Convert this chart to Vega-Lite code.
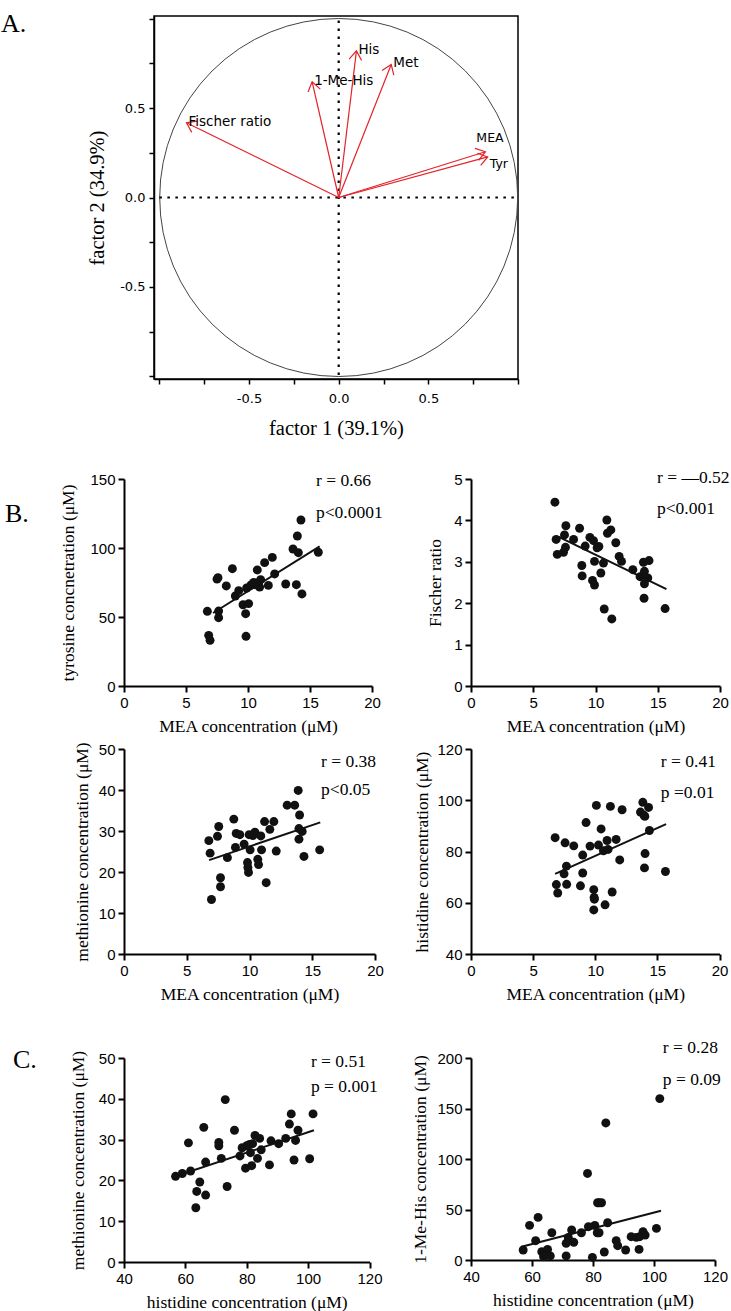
{
  "$schema": "https://vega.github.io/schema/vega-lite/v6.json",
  "background": "white",
  "padding": {"left": 0, "top": 9, "right": 0, "bottom": 0},
  "config": {
    "view": {"stroke": null},
    "axis": {"grid": false, "domainColor": "black", "domainWidth": 2, "tickColor": "black", "tickWidth": 2, "tickSize": 6, "labelFont": "Liberation Sans", "labelFontSize": 15, "labelColor": "black", "labelPadding": 3, "labelFlush": false, "labelOverlap": false, "titleFont": "Liberation Serif", "titleFontSize": 17.5, "titleFontWeight": "normal", "titleColor": "black", "titlePadding": 7},
    "text": {"font": "Liberation Serif", "fontSize": 17.5, "color": "black"}
  },
  "datasets": {
    "blank": [{}],
    "loadings": [
      {"var": "Fischer ratio", "x0": 0, "y0": 0, "f1": -0.849, "f2": 0.418},
      {"var": "1-Me-His", "x0": 0, "y0": 0, "f1": -0.148, "f2": 0.647},
      {"var": "His", "x0": 0, "y0": 0, "f1": 0.099, "f2": 0.820},
      {"var": "Met", "x0": 0, "y0": 0, "f1": 0.293, "f2": 0.744},
      {"var": "MEA", "x0": 0, "y0": 0, "f1": 0.818, "f2": 0.256},
      {"var": "Tyr", "x0": 0, "y0": 0, "f1": 0.831, "f2": 0.227}
    ],
    "origin": [{"f1": 0, "f2": 0}],
    "refLines": [
      {"f1": -1, "f1b": 0.98, "f2": 0, "f2b": 0},
      {"f1": 0, "f1b": 0, "f2": 0.99, "f2b": -1}
    ],
    "mea_tyr": [
      {"MEA": 6.72, "Tyr": 54.1}, {"MEA": 6.83, "Tyr": 36.7}, {"MEA": 6.94, "Tyr": 33.1}, {"MEA": 7.5, "Tyr": 77.5}, {"MEA": 7.58, "Tyr": 78.5},
      {"MEA": 7.63, "Tyr": 54.3}, {"MEA": 7.63, "Tyr": 49.5}, {"MEA": 8.25, "Tyr": 72.5}, {"MEA": 8.74, "Tyr": 85}, {"MEA": 8.98, "Tyr": 65.2},
      {"MEA": 9.25, "Tyr": 69.1}, {"MEA": 9.6, "Tyr": 58.9}, {"MEA": 9.81, "Tyr": 52.4}, {"MEA": 9.84, "Tyr": 36}, {"MEA": 9.89, "Tyr": 71},
      {"MEA": 10.05, "Tyr": 59.7}, {"MEA": 10.24, "Tyr": 73.2}, {"MEA": 10.46, "Tyr": 75.1}, {"MEA": 10.59, "Tyr": 73.4}, {"MEA": 10.75, "Tyr": 84.1},
      {"MEA": 10.86, "Tyr": 75.1}, {"MEA": 10.94, "Tyr": 71.7}, {"MEA": 11.02, "Tyr": 77.1}, {"MEA": 11.34, "Tyr": 89.4}, {"MEA": 11.64, "Tyr": 72.9},
      {"MEA": 11.96, "Tyr": 93.2}, {"MEA": 12.15, "Tyr": 81.2}, {"MEA": 13.04, "Tyr": 73.9}, {"MEA": 13.63, "Tyr": 99.3}, {"MEA": 13.9, "Tyr": 73.4},
      {"MEA": 13.98, "Tyr": 108.7}, {"MEA": 14.06, "Tyr": 96.6}, {"MEA": 14.27, "Tyr": 120.3}, {"MEA": 14.35, "Tyr": 66.7}, {"MEA": 15.67, "Tyr": 96.9}
    ],
    "mea_fischer": [
      {"MEA": 6.74, "Fischer": 4.44}, {"MEA": 6.84, "Fischer": 3.54}, {"MEA": 6.93, "Fischer": 3.18}, {"MEA": 7.62, "Fischer": 3.87}, {"MEA": 7.51, "Fischer": 3.65},
      {"MEA": 7.59, "Fischer": 3.35}, {"MEA": 7.43, "Fischer": 3.23}, {"MEA": 8.24, "Fischer": 3.54}, {"MEA": 8.72, "Fischer": 3.81}, {"MEA": 8.9, "Fischer": 2.91},
      {"MEA": 8.93, "Fischer": 2.66}, {"MEA": 9.17, "Fischer": 3.38}, {"MEA": 9.55, "Fischer": 3.59}, {"MEA": 9.84, "Fischer": 3.51}, {"MEA": 9.92, "Fischer": 3.01},
      {"MEA": 9.76, "Fischer": 2.55}, {"MEA": 9.92, "Fischer": 2.44}, {"MEA": 10.13, "Fischer": 3.34}, {"MEA": 10.27, "Fischer": 3.37}, {"MEA": 10.43, "Fischer": 2.73},
      {"MEA": 10.64, "Fischer": 2.97}, {"MEA": 10.7, "Fischer": 1.86}, {"MEA": 10.91, "Fischer": 4.01}, {"MEA": 10.96, "Fischer": 3.69}, {"MEA": 11.23, "Fischer": 3.77},
      {"MEA": 11.31, "Fischer": 1.62}, {"MEA": 11.63, "Fischer": 3.46}, {"MEA": 11.9, "Fischer": 3.13}, {"MEA": 12.09, "Fischer": 3.01}, {"MEA": 13.0, "Fischer": 2.81},
      {"MEA": 13.58, "Fischer": 2.64}, {"MEA": 13.85, "Fischer": 2.99}, {"MEA": 13.93, "Fischer": 2.77}, {"MEA": 13.9, "Fischer": 2.12}, {"MEA": 13.93, "Fischer": 2.47},
      {"MEA": 14.2, "Fischer": 2.61}, {"MEA": 14.3, "Fischer": 3.03}, {"MEA": 15.59, "Fischer": 1.87}
    ],
    "mea_met": [
      {"MEA": 6.76, "Met": 27.65}, {"MEA": 6.86, "Met": 24.6}, {"MEA": 6.97, "Met": 13.3}, {"MEA": 7.45, "Met": 28.7}, {"MEA": 7.55, "Met": 31.1},
      {"MEA": 7.69, "Met": 18.6}, {"MEA": 7.69, "Met": 16.4}, {"MEA": 8.24, "Met": 23.5}, {"MEA": 8.75, "Met": 32.9}, {"MEA": 8.88, "Met": 26.0},
      {"MEA": 8.94, "Met": 29.4}, {"MEA": 9.23, "Met": 29.1}, {"MEA": 9.57, "Met": 26.8}, {"MEA": 9.84, "Met": 22.3}, {"MEA": 9.87, "Met": 21.1},
      {"MEA": 9.92, "Met": 19.9}, {"MEA": 9.97, "Met": 29.1}, {"MEA": 10.05, "Met": 25.4}, {"MEA": 10.27, "Met": 28.9}, {"MEA": 10.43, "Met": 29.7},
      {"MEA": 10.66, "Met": 23.1}, {"MEA": 10.72, "Met": 21.8}, {"MEA": 10.9, "Met": 28.8}, {"MEA": 10.96, "Met": 25.4}, {"MEA": 11.2, "Met": 32.3},
      {"MEA": 11.33, "Met": 17.4}, {"MEA": 11.62, "Met": 30.4}, {"MEA": 11.94, "Met": 32.3}, {"MEA": 12.13, "Met": 25.1}, {"MEA": 13.0, "Met": 36.3},
      {"MEA": 13.6, "Met": 36.3}, {"MEA": 13.88, "Met": 39.9}, {"MEA": 13.94, "Met": 28.0}, {"MEA": 13.99, "Met": 33.9}, {"MEA": 13.94, "Met": 30.6},
      {"MEA": 14.2, "Met": 29.9}, {"MEA": 14.34, "Met": 23.8}, {"MEA": 15.59, "Met": 25.4}
    ],
    "mea_his": [
      {"MEA": 6.77, "His": 85.4}, {"MEA": 6.87, "His": 67.1}, {"MEA": 6.98, "His": 63.8}, {"MEA": 7.49, "His": 71.3}, {"MEA": 7.57, "His": 83.4},
      {"MEA": 7.68, "His": 74.3}, {"MEA": 7.7, "His": 67.2}, {"MEA": 8.27, "His": 82.2}, {"MEA": 8.81, "His": 66.6}, {"MEA": 8.99, "His": 78.6},
      {"MEA": 8.99, "His": 71.6}, {"MEA": 9.26, "His": 91.3}, {"MEA": 9.58, "His": 82.1}, {"MEA": 9.88, "His": 65.1}, {"MEA": 9.91, "His": 62.1},
      {"MEA": 9.93, "His": 61.4}, {"MEA": 9.88, "His": 57.2}, {"MEA": 10.09, "His": 98.0}, {"MEA": 10.26, "His": 82.5}, {"MEA": 10.47, "His": 88.8},
      {"MEA": 10.66, "His": 80.3}, {"MEA": 10.79, "His": 59.2}, {"MEA": 10.95, "His": 84.3}, {"MEA": 11.03, "His": 80.8}, {"MEA": 11.22, "His": 97.6},
      {"MEA": 11.36, "His": 64.2}, {"MEA": 11.68, "His": 84.7}, {"MEA": 11.97, "His": 76.7}, {"MEA": 12.16, "His": 96.3}, {"MEA": 13.83, "His": 99.2},
      {"MEA": 13.64, "His": 95.4}, {"MEA": 13.91, "His": 94.2}, {"MEA": 13.99, "His": 93.7}, {"MEA": 14.01, "His": 79.2}, {"MEA": 13.96, "His": 73.6},
      {"MEA": 14.29, "His": 97.2}, {"MEA": 14.36, "His": 88.2}, {"MEA": 15.65, "His": 72.2}
    ],
    "his_met": [
      {"His": 56.8, "Met": 21.0}, {"His": 59.0, "Met": 21.7}, {"His": 61.0, "Met": 29.2}, {"His": 61.7, "Met": 22.3}, {"His": 63.4, "Met": 13.3},
      {"His": 63.7, "Met": 17.3}, {"His": 64.7, "Met": 19.6}, {"His": 66.0, "Met": 33.0}, {"His": 66.6, "Met": 16.4}, {"His": 66.6, "Met": 24.5},
      {"His": 70.9, "Met": 29.3}, {"His": 70.9, "Met": 28.5}, {"His": 71.7, "Met": 25.4}, {"His": 73.0, "Met": 39.8}, {"His": 73.6, "Met": 18.5},
      {"His": 76.0, "Met": 32.3}, {"His": 77.8, "Met": 26.0}, {"His": 78.5, "Met": 28.0}, {"His": 79.6, "Met": 23.0}, {"His": 80.0, "Met": 28.5},
      {"His": 80.9, "Met": 28.8}, {"His": 81.2, "Met": 26.8}, {"His": 81.6, "Met": 23.6}, {"His": 81.9, "Met": 29.0}, {"His": 82.7, "Met": 31.0},
      {"His": 83.5, "Met": 25.4}, {"His": 84.2, "Met": 30.3}, {"His": 84.7, "Met": 27.5}, {"His": 87.4, "Met": 23.8}, {"His": 87.9, "Met": 29.7},
      {"His": 90.4, "Met": 29.0}, {"His": 92.7, "Met": 30.3}, {"His": 93.9, "Met": 33.8}, {"His": 94.5, "Met": 36.3}, {"His": 95.4, "Met": 25.0},
      {"His": 95.9, "Met": 29.8}, {"His": 96.7, "Met": 32.3}, {"His": 100.5, "Met": 25.3}, {"His": 101.6, "Met": 36.3}
    ],
    "his_mehis": [
      {"His": 57.1, "MeHis": 9.9}, {"His": 59.2, "MeHis": 34.3}, {"His": 61.2, "MeHis": 19.1}, {"His": 62.0, "MeHis": 42.2}, {"His": 63.2, "MeHis": 8.2},
      {"His": 63.8, "MeHis": 3.3}, {"His": 65.1, "MeHis": 10.5}, {"His": 64.9, "MeHis": 4.9}, {"His": 66.0, "MeHis": 4.0}, {"His": 66.5, "MeHis": 27.0},
      {"His": 71.2, "MeHis": 4.0}, {"His": 71.2, "MeHis": 16.5}, {"His": 71.9, "MeHis": 22.4}, {"His": 73.0, "MeHis": 29.7}, {"His": 73.7, "MeHis": 17.5},
      {"His": 76.2, "MeHis": 27.0}, {"His": 78.2, "MeHis": 85.7}, {"His": 78.5, "MeHis": 33.0}, {"His": 79.8, "MeHis": 2.6}, {"His": 80.6, "MeHis": 34.3},
      {"His": 81.5, "MeHis": 56.7}, {"His": 82.0, "MeHis": 56.7}, {"His": 82.8, "MeHis": 56.7}, {"His": 81.4, "MeHis": 27.0}, {"His": 82.0, "MeHis": 27.0},
      {"His": 83.7, "MeHis": 7.9}, {"His": 84.2, "MeHis": 135.7}, {"His": 84.8, "MeHis": 36.9}, {"His": 87.6, "MeHis": 19.1}, {"His": 88.1, "MeHis": 14.2},
      {"His": 90.7, "MeHis": 9.9}, {"His": 92.5, "MeHis": 23.1}, {"His": 94.2, "MeHis": 22.4}, {"His": 95.1, "MeHis": 10.5}, {"His": 95.3, "MeHis": 23.1},
      {"His": 96.4, "MeHis": 28.0}, {"His": 97.1, "MeHis": 24.7}, {"His": 100.8, "MeHis": 31.3}, {"His": 101.9, "MeHis": 159.8}
    ],
    "fits": [
      {"panel": "B1", "x": 7.18, "y": 52.9}, {"panel": "B1", "x": 15.78, "y": 101.2},
      {"panel": "B2", "x": 7.0, "y": 3.61}, {"panel": "B2", "x": 15.7, "y": 2.34},
      {"panel": "B3", "x": 6.78, "y": 22.9}, {"panel": "B3", "x": 15.64, "y": 32.1},
      {"panel": "B4", "x": 6.77, "y": 71.3}, {"panel": "B4", "x": 15.7, "y": 90.7},
      {"panel": "C1", "x": 56.8, "y": 21.0}, {"panel": "C1", "x": 101.9, "y": 32.3},
      {"panel": "C2", "x": 56.6, "y": 13.2}, {"panel": "C2", "x": 102.3, "y": 48.8}
    ]
  },
  "spacing": 0,
  "vconcat": [
    {
      "bounds": "flush",
      "spacing": 0,
      "hconcat": [
        {"data": {"name": "blank"}, "mark": {"type": "point", "opacity": 0, "size": 0, "strokeWidth": 0}, "width": 153, "height": 430},
        {
          "width": 364, "height": 363,
          "view": {"stroke": "black", "strokeWidth": 1.5},
          "layer": [
            {"data": {"name": "origin"}, "mark": {"type": "point", "shape": "circle", "size": 128164, "filled": false, "stroke": "#444", "strokeWidth": 1, "opacity": 1},
             "encoding": {
               "x": {"field": "f1", "type": "quantitative", "scale": {"domain": [-1.03, 1.0], "nice": false, "zero": false},
                     "axis": {"title": "factor 1 (39.1%)", "values": [-1, -0.75, -0.5, -0.25, 0, 0.25, 0.5, 0.75, 1], "labelExpr": "datum.value == -0.5 ? '-0.5' : datum.value == 0 ? '0.0' : datum.value == 0.5 ? '0.5' : ''", "labelFont": "DejaVu Sans", "labelFontSize": 13, "labelPadding": 8, "tickSize": 5, "tickWidth": 1.5, "domainWidth": 1.5, "titleFontSize": 20.5, "titlePadding": 13}},
               "y": {"field": "f2", "type": "quantitative", "scale": {"domain": [-1.015, 1.015], "nice": false, "zero": false},
                     "axis": {"title": "factor 2 (34.9%)", "values": [-1, -0.75, -0.5, -0.25, 0, 0.25, 0.5, 0.75, 1], "labelExpr": "datum.value == -0.5 ? '-0.5' : datum.value == 0 ? '0.0' : datum.value == 0.5 ? '0.5' : ''", "labelFont": "DejaVu Sans", "labelFontSize": 13, "labelPadding": 4, "tickSize": 5, "tickWidth": 1.5, "domainWidth": 1.5, "titleFontSize": 20.5, "titlePadding": 12}}
             }},
            {"data": {"name": "refLines"}, "mark": {"type": "rule", "color": "black", "strokeWidth": 2.2, "strokeDash": [2.5, 5.5]},
             "encoding": {"x": {"field": "f1", "type": "quantitative"}, "x2": {"field": "f1b"}, "y": {"field": "f2", "type": "quantitative"}, "y2": {"field": "f2b"}}},
            {"data": {"name": "loadings"}, "mark": {"type": "rule", "color": "#e4222a", "strokeWidth": 1.2},
             "encoding": {"x": {"field": "x0", "type": "quantitative"}, "y": {"field": "y0", "type": "quantitative"}, "x2": {"field": "f1"}, "y2": {"field": "f2"}}},
            {"data": {"name": "loadings"}, "transform": [{"calculate": "atan2(datum.f1, datum.f2) * 180 / PI", "as": "ang"}],
             "mark": {"type": "point", "shape": "M-0.7,1L0,0L0.7,1", "size": 324, "filled": false, "stroke": "#e4222a", "strokeWidth": 1.2, "opacity": 1},
             "encoding": {"x": {"field": "f1", "type": "quantitative"}, "y": {"field": "f2", "type": "quantitative"}, "angle": {"field": "ang", "type": "quantitative", "scale": null}}},
            {"data": {"name": "loadings"}, "transform": [{"filter": "datum.var != 'MEA' && datum.var != 'Tyr'"}],
             "mark": {"type": "text", "align": "left", "baseline": "middle", "dx": 2, "dy": -1, "font": "DejaVu Sans", "fontSize": 13.5, "color": "black"},
             "encoding": {"x": {"field": "f1", "type": "quantitative"}, "y": {"field": "f2", "type": "quantitative"}, "text": {"field": "var", "type": "nominal"}}},
            {"data": {"name": "loadings"}, "transform": [{"filter": "datum.var == 'MEA'"}],
             "mark": {"type": "text", "align": "left", "baseline": "middle", "dx": -9, "dy": -14, "font": "DejaVu Sans", "fontSize": 12.5, "color": "black"},
             "encoding": {"x": {"field": "f1", "type": "quantitative"}, "y": {"field": "f2", "type": "quantitative"}, "text": {"field": "var", "type": "nominal"}}},
            {"data": {"name": "loadings"}, "transform": [{"filter": "datum.var == 'Tyr'"}],
             "mark": {"type": "text", "align": "left", "baseline": "middle", "dx": 2, "dy": 7, "font": "DejaVu Sans", "fontSize": 12.5, "color": "black"},
             "encoding": {"x": {"field": "f1", "type": "quantitative"}, "y": {"field": "f2", "type": "quantitative"}, "text": {"field": "var", "type": "nominal"}}},
            {"data": {"values": [{"t": "A."}]}, "mark": {"type": "text", "align": "left", "baseline": "alphabetic", "fontSize": 26},
             "encoding": {"text": {"field": "t", "type": "nominal"}, "x": {"datum": -1.883, "type": "quantitative"}, "y": {"datum": 0.927, "type": "quantitative"}}}
          ]
        }
      ]
    },
    {
      "columns": 4,
      "bounds": "flush",
      "spacing": 0,
      "concat": [
        {"data": {"name": "blank"}, "mark": {"type": "point", "opacity": 0, "size": 0, "strokeWidth": 0}, "width": 1, "height": 33},
        {"data": {"name": "blank"}, "mark": {"type": "point", "opacity": 0, "size": 0, "strokeWidth": 0}, "width": 1, "height": 33},
        {"data": {"name": "blank"}, "mark": {"type": "point", "opacity": 0, "size": 0, "strokeWidth": 0}, "width": 1, "height": 33},
        {"data": {"name": "blank"}, "mark": {"type": "point", "opacity": 0, "size": 0, "strokeWidth": 0}, "width": 1, "height": 33},

        {"data": {"name": "blank"}, "mark": {"type": "point", "opacity": 0, "size": 0, "strokeWidth": 0}, "width": 123, "height": 1},
        {
          "width": 248, "height": 207,
          "layer": [
            {"data": {"name": "mea_tyr"}, "mark": {"type": "point", "filled": true, "size": 80, "color": "#111", "opacity": 1},
             "encoding": {
               "x": {"field": "MEA", "type": "quantitative", "scale": {"domain": [0, 20], "nice": false, "zero": false}, "axis": {"values": [0, 5, 10, 15, 20], "title": "MEA concentration (μM)"}},
               "y": {"field": "Tyr", "type": "quantitative", "scale": {"domain": [0, 150], "nice": false}, "axis": {"values": [0, 50, 100, 150], "title": "tyrosine concnetration (μM)", "titlePadding": 12}}}},
            {"data": {"name": "fits"}, "transform": [{"filter": "datum.panel == 'B1'"}], "mark": {"type": "line", "color": "#111", "strokeWidth": 2},
             "encoding": {"x": {"field": "x", "type": "quantitative"}, "y": {"field": "y", "type": "quantitative"}}},
            {"data": {"values": [{"t": "r = 0.66"}]}, "mark": {"type": "text", "align": "left", "baseline": "middle"},
             "encoding": {"text": {"field": "t", "type": "nominal"}, "x": {"datum": 15.48, "type": "quantitative"}, "y": {"datum": 148.8, "type": "quantitative"}}},
            {"data": {"values": [{"t": "p<0.0001"}]}, "mark": {"type": "text", "align": "left", "baseline": "middle"},
             "encoding": {"text": {"field": "t", "type": "nominal"}, "x": {"datum": 15.48, "type": "quantitative"}, "y": {"datum": 125.6, "type": "quantitative"}}},
            {"data": {"values": [{"t": "B."}]}, "mark": {"type": "text", "align": "left", "baseline": "alphabetic", "fontSize": 26},
             "encoding": {"text": {"field": "t", "type": "nominal"}, "x": {"datum": -9.6, "type": "quantitative"}, "y": {"datum": 119, "type": "quantitative"}}}
          ]
        },
        {"data": {"name": "blank"}, "mark": {"type": "point", "opacity": 0, "size": 0, "strokeWidth": 0}, "width": 96, "height": 1},
        {
          "width": 249, "height": 207,
          "layer": [
            {"data": {"name": "mea_fischer"}, "mark": {"type": "point", "filled": true, "size": 80, "color": "#111", "opacity": 1},
             "encoding": {
               "x": {"field": "MEA", "type": "quantitative", "scale": {"domain": [0, 20], "nice": false, "zero": false}, "axis": {"values": [0, 5, 10, 15, 20], "title": "MEA concentration (μM)"}},
               "y": {"field": "Fischer", "type": "quantitative", "scale": {"domain": [0, 5], "nice": false}, "axis": {"values": [0, 1, 2, 3, 4, 5], "title": "Fischer ratio", "titlePadding": 9}}}},
            {"data": {"name": "fits"}, "transform": [{"filter": "datum.panel == 'B2'"}], "mark": {"type": "line", "color": "#111", "strokeWidth": 2},
             "encoding": {"x": {"field": "x", "type": "quantitative"}, "y": {"field": "y", "type": "quantitative"}}},
            {"data": {"values": [{"t": "r = —0.52"}]}, "mark": {"type": "text", "align": "left", "baseline": "middle"},
             "encoding": {"text": {"field": "t", "type": "nominal"}, "x": {"datum": 14.94, "type": "quantitative"}, "y": {"datum": 5.02, "type": "quantitative"}}},
            {"data": {"values": [{"t": "p<0.001"}]}, "mark": {"type": "text", "align": "left", "baseline": "middle"},
             "encoding": {"text": {"field": "t", "type": "nominal"}, "x": {"datum": 14.94, "type": "quantitative"}, "y": {"datum": 4.27, "type": "quantitative"}}}
          ]
        },

        {"data": {"name": "blank"}, "mark": {"type": "point", "opacity": 0, "size": 0, "strokeWidth": 0}, "width": 1, "height": 1},
        {"data": {"name": "blank"}, "mark": {"type": "point", "opacity": 0, "size": 0, "strokeWidth": 0}, "width": 1, "height": 63},
        {"data": {"name": "blank"}, "mark": {"type": "point", "opacity": 0, "size": 0, "strokeWidth": 0}, "width": 1, "height": 1},
        {"data": {"name": "blank"}, "mark": {"type": "point", "opacity": 0, "size": 0, "strokeWidth": 0}, "width": 1, "height": 63},

        {"data": {"name": "blank"}, "mark": {"type": "point", "opacity": 0, "size": 0, "strokeWidth": 0}, "width": 123, "height": 1},
        {
          "width": 251, "height": 205,
          "layer": [
            {"data": {"name": "mea_met"}, "mark": {"type": "point", "filled": true, "size": 80, "color": "#111", "opacity": 1},
             "encoding": {
               "x": {"field": "MEA", "type": "quantitative", "scale": {"domain": [0, 20], "nice": false, "zero": false}, "axis": {"values": [0, 5, 10, 15, 20], "title": "MEA concentration (μM)"}},
               "y": {"field": "Met", "type": "quantitative", "scale": {"domain": [0, 50], "nice": false}, "axis": {"values": [0, 10, 20, 30, 40, 50], "title": "methionine concentration (μM)", "titlePadding": 7}}}},
            {"data": {"name": "fits"}, "transform": [{"filter": "datum.panel == 'B3'"}], "mark": {"type": "line", "color": "#111", "strokeWidth": 2},
             "encoding": {"x": {"field": "x", "type": "quantitative"}, "y": {"field": "y", "type": "quantitative"}}},
            {"data": {"values": [{"t": "r = 0.38"}]}, "mark": {"type": "text", "align": "left", "baseline": "middle"},
             "encoding": {"text": {"field": "t", "type": "nominal"}, "x": {"datum": 15.7, "type": "quantitative"}, "y": {"datum": 46.9, "type": "quantitative"}}},
            {"data": {"values": [{"t": "p<0.05"}]}, "mark": {"type": "text", "align": "left", "baseline": "middle"},
             "encoding": {"text": {"field": "t", "type": "nominal"}, "x": {"datum": 15.7, "type": "quantitative"}, "y": {"datum": 40.0, "type": "quantitative"}}}
          ]
        },
        {"data": {"name": "blank"}, "mark": {"type": "point", "opacity": 0, "size": 0, "strokeWidth": 0}, "width": 96, "height": 1},
        {
          "width": 248.5, "height": 205,
          "layer": [
            {"data": {"name": "mea_his"}, "mark": {"type": "point", "filled": true, "size": 80, "color": "#111", "opacity": 1},
             "encoding": {
               "x": {"field": "MEA", "type": "quantitative", "scale": {"domain": [0, 20], "nice": false, "zero": false}, "axis": {"values": [0, 5, 10, 15, 20], "title": "MEA concentration (μM)"}},
               "y": {"field": "His", "type": "quantitative", "scale": {"domain": [40, 120], "nice": false, "zero": false}, "axis": {"values": [40, 60, 80, 100, 120], "title": "histidine concentration (μM)", "titlePadding": 5}}}},
            {"data": {"name": "fits"}, "transform": [{"filter": "datum.panel == 'B4'"}], "mark": {"type": "line", "color": "#111", "strokeWidth": 2},
             "encoding": {"x": {"field": "x", "type": "quantitative"}, "y": {"field": "y", "type": "quantitative"}}},
            {"data": {"values": [{"t": "r = 0.41"}]}, "mark": {"type": "text", "align": "left", "baseline": "middle"},
             "encoding": {"text": {"field": "t", "type": "nominal"}, "x": {"datum": 15.28, "type": "quantitative"}, "y": {"datum": 115.0, "type": "quantitative"}}},
            {"data": {"values": [{"t": "p =0.01"}]}, "mark": {"type": "text", "align": "left", "baseline": "middle"},
             "encoding": {"text": {"field": "t", "type": "nominal"}, "x": {"datum": 15.28, "type": "quantitative"}, "y": {"datum": 102.8, "type": "quantitative"}}}
          ]
        },

        {"data": {"name": "blank"}, "mark": {"type": "point", "opacity": 0, "size": 0, "strokeWidth": 0}, "width": 1, "height": 1},
        {"data": {"name": "blank"}, "mark": {"type": "point", "opacity": 0, "size": 0, "strokeWidth": 0}, "width": 1, "height": 104},
        {"data": {"name": "blank"}, "mark": {"type": "point", "opacity": 0, "size": 0, "strokeWidth": 0}, "width": 1, "height": 1},
        {"data": {"name": "blank"}, "mark": {"type": "point", "opacity": 0, "size": 0, "strokeWidth": 0}, "width": 1, "height": 104},

        {"data": {"name": "blank"}, "mark": {"type": "point", "opacity": 0, "size": 0, "strokeWidth": 0}, "width": 123, "height": 1},
        {
          "width": 245.5, "height": 204,
          "layer": [
            {"data": {"name": "his_met"}, "mark": {"type": "point", "filled": true, "size": 80, "color": "#111", "opacity": 1},
             "encoding": {
               "x": {"field": "His", "type": "quantitative", "scale": {"domain": [40, 120], "nice": false, "zero": false}, "axis": {"values": [40, 60, 80, 100, 120], "title": "histidine concentration (μM)"}},
               "y": {"field": "Met", "type": "quantitative", "scale": {"domain": [0, 50], "nice": false}, "axis": {"values": [0, 10, 20, 30, 40, 50], "title": "methionine concentration (μM)", "titlePadding": 11}}}},
            {"data": {"name": "fits"}, "transform": [{"filter": "datum.panel == 'C1'"}], "mark": {"type": "line", "color": "#111", "strokeWidth": 2},
             "encoding": {"x": {"field": "x", "type": "quantitative"}, "y": {"field": "y", "type": "quantitative"}}},
            {"data": {"values": [{"t": "r = 0.51"}]}, "mark": {"type": "text", "align": "left", "baseline": "middle"},
             "encoding": {"text": {"field": "t", "type": "nominal"}, "x": {"datum": 100.9, "type": "quantitative"}, "y": {"datum": 49.1, "type": "quantitative"}}},
            {"data": {"values": [{"t": "p = 0.001"}]}, "mark": {"type": "text", "align": "left", "baseline": "middle"},
             "encoding": {"text": {"field": "t", "type": "nominal"}, "x": {"datum": 100.9, "type": "quantitative"}, "y": {"datum": 43.0, "type": "quantitative"}}},
            {"data": {"values": [{"t": "C."}]}, "mark": {"type": "text", "align": "left", "baseline": "alphabetic", "fontSize": 26},
             "encoding": {"text": {"field": "t", "type": "nominal"}, "x": {"datum": 3.83, "type": "quantitative"}, "y": {"datum": 47.5, "type": "quantitative"}}}
          ]
        },
        {"data": {"name": "blank"}, "mark": {"type": "point", "opacity": 0, "size": 0, "strokeWidth": 0}, "width": 96, "height": 1},
        {
          "width": 244, "height": 202,
          "layer": [
            {"data": {"name": "his_mehis"}, "mark": {"type": "point", "filled": true, "size": 80, "color": "#111", "opacity": 1},
             "encoding": {
               "x": {"field": "His", "type": "quantitative", "scale": {"domain": [40, 120], "nice": false, "zero": false}, "axis": {"values": [40, 60, 80, 100, 120], "title": "histidine concentration (μM)"}},
               "y": {"field": "MeHis", "type": "quantitative", "scale": {"domain": [0, 200], "nice": false}, "axis": {"values": [0, 50, 100, 150, 200], "title": "1-Me-His concentration (μM)", "titlePadding": 7}}}},
            {"data": {"name": "fits"}, "transform": [{"filter": "datum.panel == 'C2'"}], "mark": {"type": "line", "color": "#111", "strokeWidth": 2},
             "encoding": {"x": {"field": "x", "type": "quantitative"}, "y": {"field": "y", "type": "quantitative"}}},
            {"data": {"values": [{"t": "r = 0.28"}]}, "mark": {"type": "text", "align": "left", "baseline": "middle"},
             "encoding": {"text": {"field": "t", "type": "nominal"}, "x": {"datum": 102.9, "type": "quantitative"}, "y": {"datum": 210.2, "type": "quantitative"}}},
            {"data": {"values": [{"t": "p = 0.09"}]}, "mark": {"type": "text", "align": "left", "baseline": "middle"},
             "encoding": {"text": {"field": "t", "type": "nominal"}, "x": {"datum": 102.9, "type": "quantitative"}, "y": {"datum": 178.2, "type": "quantitative"}}}
          ]
        }
      ]
    }
  ]
}
